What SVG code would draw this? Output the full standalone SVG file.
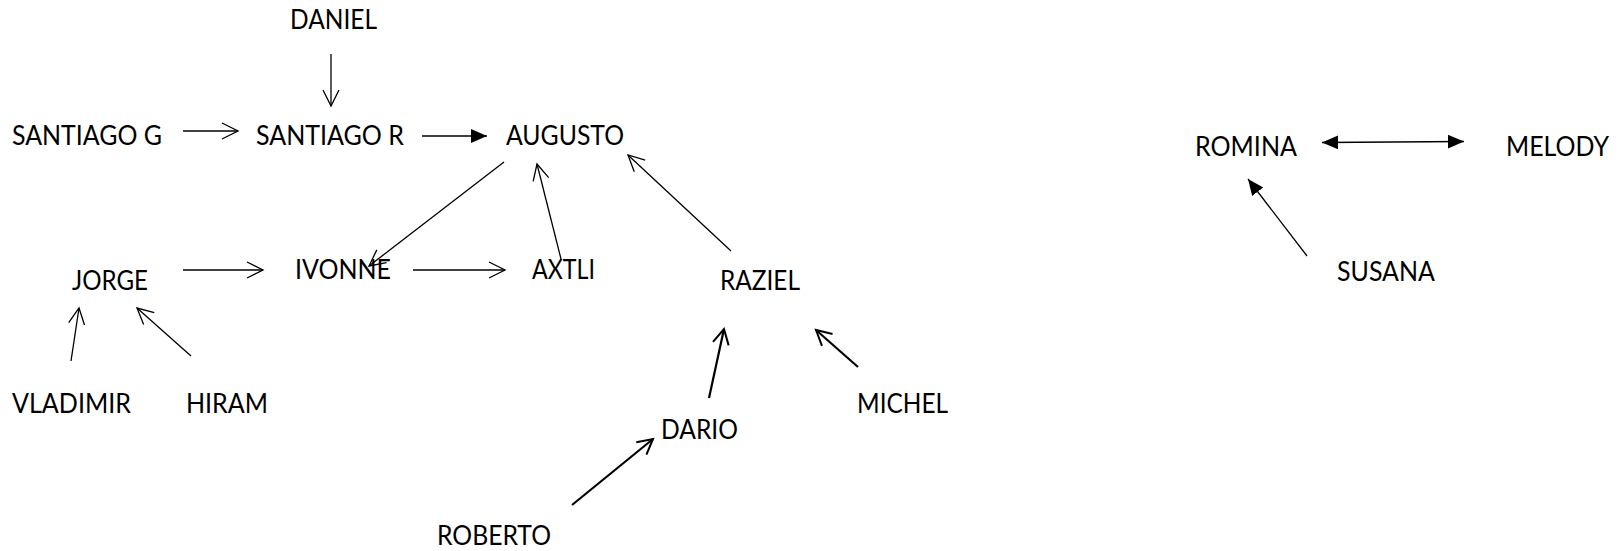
<svg xmlns="http://www.w3.org/2000/svg" width="1620" height="551" viewBox="0 0 1620 551">
<style>
text{font-family:Lato,"Open Sans","Liberation Sans",sans-serif;font-size:26px;fill:#000}
.c{stroke:#000;fill:none;stroke-width:1.3}
.t{stroke-width:2.2}
</style>
<defs>
<marker id="open" markerUnits="userSpaceOnUse" viewBox="0 0 20 20" markerWidth="20" markerHeight="20" refX="17" refY="9" orient="auto">
<path d="M1,1 L17,9 L1,17" fill="none" stroke="#000" stroke-width="1.3"/>
</marker>
<marker id="openT" markerUnits="userSpaceOnUse" viewBox="0 0 20 20" markerWidth="20" markerHeight="20" refX="16" refY="9" orient="auto">
<path d="M1,1 L16,9 L1,17" fill="none" stroke="#000" stroke-width="2"/>
</marker>
<marker id="fill" markerUnits="userSpaceOnUse" viewBox="0 0 20 20" markerWidth="20" markerHeight="20" refX="16" refY="7" orient="auto-start-reverse">
<path d="M0,0 L16,7 L0,14 z" fill="#000"/>
</marker>
</defs>
<rect width="1620" height="551" fill="#fff"/>
<g id="connectors">
<line class="c" x1="331" y1="54" x2="331" y2="106" marker-end="url(#open)"/>
<line class="c" x1="183" y1="131" x2="238" y2="131" marker-end="url(#open)"/>
<line class="c" x1="422" y1="136" x2="487" y2="136" marker-end="url(#fill)"/>
<line class="c" x1="504" y1="162" x2="369" y2="266" marker-end="url(#open)"/>
<line class="c" x1="561" y1="259" x2="537" y2="164" marker-end="url(#open)"/>
<line class="c" x1="731" y1="251" x2="628" y2="155" marker-end="url(#open)"/>
<line class="c" x1="183" y1="270" x2="263" y2="270" marker-end="url(#open)"/>
<line class="c" x1="413" y1="270" x2="505" y2="270" marker-end="url(#open)"/>
<line class="c" x1="71" y1="361" x2="79" y2="308" marker-end="url(#open)"/>
<line class="c" x1="191" y1="356" x2="137" y2="308" marker-end="url(#open)"/>
<line class="c t" x1="709" y1="398" x2="724" y2="329" marker-end="url(#openT)"/>
<line class="c t" x1="858" y1="367" x2="816" y2="330" marker-end="url(#openT)"/>
<line class="c t" x1="572" y1="505" x2="653" y2="439" marker-end="url(#openT)"/>
<line class="c" x1="1322" y1="142.5" x2="1464" y2="141.5" marker-start="url(#fill)" marker-end="url(#fill)"/>
<line class="c" x1="1307" y1="256" x2="1248" y2="179" marker-end="url(#fill)"/>
</g>
<g id="daniel"><text x="290" y="29" textLength="87" lengthAdjust="spacingAndGlyphs">DANIEL</text></g>
<g id="santiago-g"><text x="12" y="145" textLength="150" lengthAdjust="spacingAndGlyphs">SANTIAGO G</text></g>
<g id="santiago-r"><text x="256" y="145" textLength="148" lengthAdjust="spacingAndGlyphs">SANTIAGO R</text></g>
<g id="augusto"><text x="506" y="145" textLength="118" lengthAdjust="spacingAndGlyphs">AUGUSTO</text></g>
<g id="jorge"><text x="72" y="290" textLength="76" lengthAdjust="spacingAndGlyphs">JORGE</text></g>
<g id="ivonne"><text x="295" y="279" textLength="96" lengthAdjust="spacingAndGlyphs">IVONNE</text></g>
<g id="axtli"><text x="532" y="279" textLength="63" lengthAdjust="spacingAndGlyphs">AXTLI</text></g>
<g id="raziel"><text x="720" y="290" textLength="80" lengthAdjust="spacingAndGlyphs">RAZIEL</text></g>
<g id="vladimir"><text x="12" y="413" textLength="119" lengthAdjust="spacingAndGlyphs">VLADIMIR</text></g>
<g id="hiram"><text x="186" y="413" textLength="82" lengthAdjust="spacingAndGlyphs">HIRAM</text></g>
<g id="dario"><text x="661" y="439" textLength="77" lengthAdjust="spacingAndGlyphs">DARIO</text></g>
<g id="michel"><text x="857" y="413" textLength="91" lengthAdjust="spacingAndGlyphs">MICHEL</text></g>
<g id="roberto"><text x="437" y="545" textLength="114" lengthAdjust="spacingAndGlyphs">ROBERTO</text></g>
<g id="romina"><text x="1195" y="156" textLength="102" lengthAdjust="spacingAndGlyphs">ROMINA</text></g>
<g id="melody"><text x="1506" y="156" textLength="103" lengthAdjust="spacingAndGlyphs">MELODY</text></g>
<g id="susana"><text x="1337" y="281" textLength="98" lengthAdjust="spacingAndGlyphs">SUSANA</text></g>
</svg>
